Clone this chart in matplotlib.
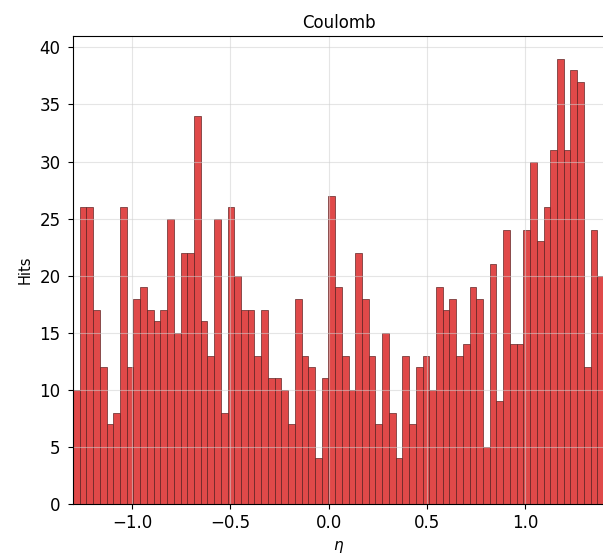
import matplotlib
matplotlib.use("Agg")
import matplotlib.pyplot as plt
import numpy as np

# histogram counts, left to right
counts = [10, 26, 26, 17, 12, 7, 8, 26, 12, 18,
          19, 17, 16, 17, 25, 15, 22, 22, 34, 16,
          13, 25, 8, 26, 20, 17, 17, 13, 17, 11,
          11, 10, 7, 18, 13, 12, 4, 11, 27, 19,
          13, 10, 22, 18, 13, 7, 15, 8, 4, 13,
          7, 12, 13, 10, 19, 17, 18, 13, 14, 19,
          18, 5, 21, 9, 24, 14, 14, 24, 30, 23,
          26, 31, 39, 31, 38, 37, 12, 24, 20]
eta_min = -1.3
eta_max = 1.4
edges = np.linspace(eta_min, eta_max, len(counts) + 1)

title = "Coulomb"
xlabel = r"$\eta$"
ylabel = "Hits"

fig = plt.figure(figsize=(6.03, 5.59), dpi=100)
W, H = 603, 559
ax = fig.add_axes([73 / W, 1 - 504 / H, (604 - 73) / W, (504 - 36) / H])

ax.hist(edges[:-1], bins=edges, weights=counts, color="#df3f3f", alpha=0.95,
        edgecolor="#5a2020", linewidth=0.5)

ax.set_xlim(eta_min, eta_max)
ax.set_ylim(0, 41)
ax.set_xticks([-1.0, -0.5, 0.0, 0.5, 1.0])
ax.set_yticks(range(0, 41, 5))
ax.grid(True, color="#d0d0d0", alpha=0.55, linewidth=0.8)
ax.tick_params(labelsize=12)
ax.tick_params(axis="y", pad=5.5)
ax.set_title(title, fontsize=12)
ax.set_xlabel(xlabel, fontsize=11, labelpad=5)
ax.set_ylabel(ylabel, fontsize=10.5, labelpad=5)

fig.savefig("out.png", dpi=100)
